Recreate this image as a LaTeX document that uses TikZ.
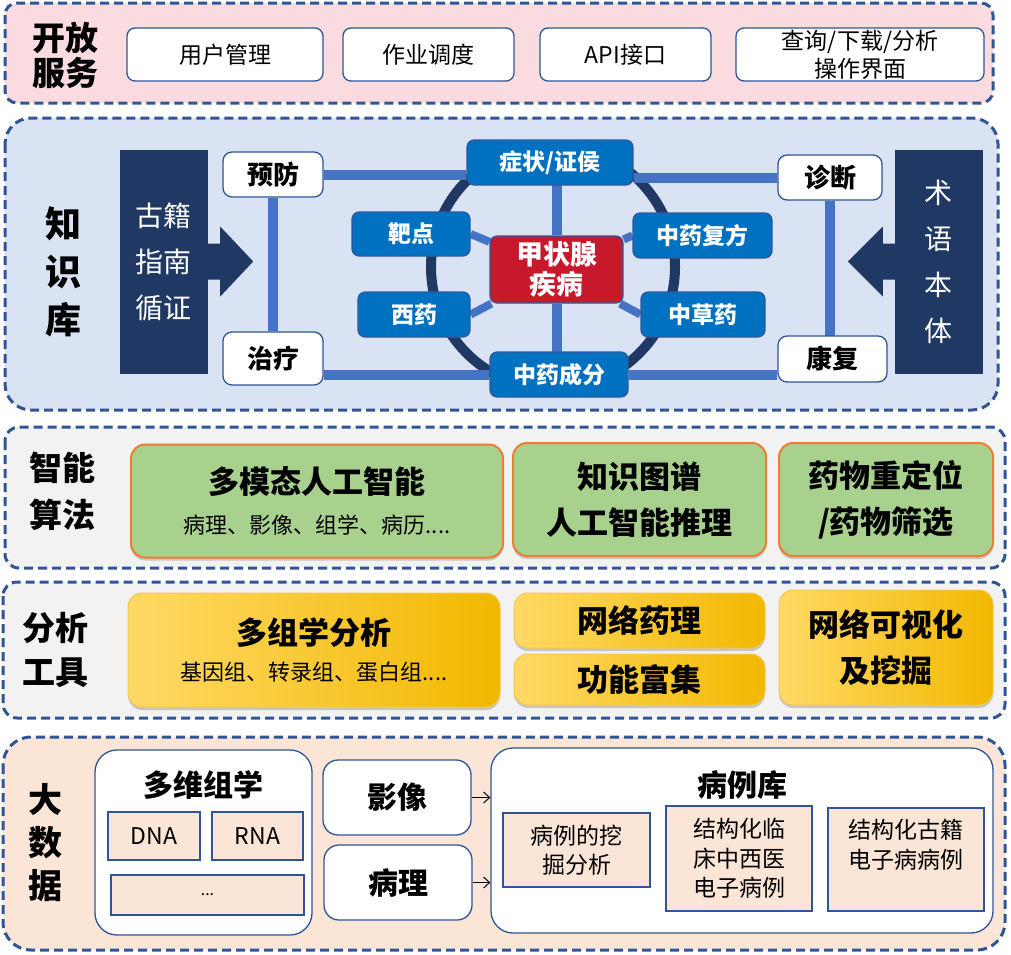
\documentclass[tikz,border=0pt]{standalone}
\usepackage{fontspec}
\setmainfont{Noto Sans CJK SC}
\usetikzlibrary{arrows.meta,shadows,calc}
\definecolor{panelblue}{HTML}{2F5597}
\definecolor{servicebg}{HTML}{F9DBE0}
\definecolor{kbbg}{HTML}{DAE3F3}
\definecolor{toolbg}{HTML}{F2F2F2}
\definecolor{databg}{HTML}{FBE5D6}
\definecolor{kbnavy}{HTML}{203864}
\definecolor{linkblue}{HTML}{4472C4}
\definecolor{entityblue}{HTML}{0070C0}
\definecolor{entityedge}{HTML}{2E5A9C}
\definecolor{diseasered}{HTML}{C8192C}
\definecolor{algogreen}{HTML}{A9D18E}
\definecolor{algoorange}{HTML}{ED7D31}
\definecolor{toollight}{HTML}{FFD966}
\definecolor{tooldark}{HTML}{F2B800}
\definecolor{tooledge}{HTML}{F5C84A}
\pgfdeclarelayer{panel}
\pgfdeclarelayer{links}
\pgfsetlayers{panel,links,main}
\tikzset{
  layer panel/.style={draw=panelblue, line width=3pt, dash pattern=on 9pt off 5pt},
  layer label/.style={font=\bfseries\fontsize{34}{44}\selectfont, align=center,
    inner sep=0pt},
  white box/.style={draw=panelblue, line width=1.3pt, fill=white,
    rounded corners=8pt, inner sep=0pt, align=center},
  service box/.style={white box, minimum height=53pt,
    font=\fontsize{23}{28}\selectfont},
  kb term/.style={white box, rounded corners=9pt,
    font=\bfseries\fontsize{26}{30}\selectfont},
  kb block/.style={fill=kbnavy, draw=kbnavy, text=white, inner sep=0pt,
    align=center, minimum width=87pt, minimum height=223pt,
    font=\fontsize{28}{46}\selectfont},
  kb entity/.style={fill=entityblue, draw=entityedge, line width=1.2pt,
    rounded corners=7pt, text=white, inner sep=0pt, minimum height=45pt,
    font=\bfseries\fontsize{23}{28}\selectfont},
  kb disease/.style={kb entity, fill=diseasered, align=center,
    font=\bfseries\fontsize{27}{30}\selectfont},
  kb link/.style={draw=linkblue, line width=10pt},
  kb spoke/.style={draw=linkblue, line width=8pt},
  kb ring/.style={circle, draw=kbnavy, line width=10pt, minimum size=244pt,
    inner sep=0pt},
  algo box/.style={fill=algogreen, draw=algoorange, line width=2pt,
    rounded corners=14pt, inner sep=0pt, align=center,
    drop shadow={shadow xshift=0pt, shadow yshift=-3pt, fill=black,
      opacity=.18}},
  tool box/.style={left color=toollight, right color=tooldark, draw=tooledge,
    line width=1pt, rounded corners=14pt, inner sep=0pt, align=center,
    drop shadow={shadow xshift=0pt, shadow yshift=-3pt, fill=black,
      opacity=.18}},
  big text/.style={font=\bfseries\fontsize{31}{46}\selectfont},
  data box/.style={white box, rounded corners=22pt},
  data title/.style={inner sep=0pt, font=\bfseries\fontsize{30}{34}\selectfont},
  data cell/.style={fill=databg, draw=panelblue, line width=1.3pt,
    inner sep=0pt, align=center, font=\fontsize{23}{29.5}\selectfont},
  feed arrow/.style={-{Straight Barb[length=6pt,width=11pt]}, line width=1pt},
}

\begin{document}
\begin{tikzpicture}[x=1pt, y=-1pt]
  \useasboundingbox (0,0) rectangle (1011,954);

  % layer panels
  \begin{pgfonlayer}{panel}
    \draw[layer panel, fill=servicebg, rounded corners=12pt] (5,3) rectangle (993,103);
    \draw[layer panel, fill=kbbg, rounded corners=26pt] (5,118) rectangle (998,410);
    \draw[layer panel, fill=toolbg, rounded corners=14pt] (5,427) rectangle (1005,568);
    \draw[layer panel, fill=toolbg, rounded corners=14pt] (3,582) rectangle (1005,718);
    \draw[layer panel, fill=databg, rounded corners=28pt] (3,737) rectangle (1005,950);
  \end{pgfonlayer}

  % open services
  \node[layer label, font=\bfseries\fontsize{33}{35}\selectfont] (lopen) at (65,55) {开放\\服务};
  \node[service box, minimum width=196pt] (user) at (225,54.5) {用户管理};
  \node[service box, minimum width=171pt] (sched) at (428.5,54.5) {作业调度};
  \node[service box, minimum width=171pt] (api) at (625.5,54.5) {API接口};
  \node[service box, minimum width=248pt] (query) at (860,54.5) {查询/下载/分析\\操作界面};

  % knowledge base
  \node[layer label, font=\bfseries\fontsize{36}{48}\selectfont] (lkb) at (63,272) {知\\识\\库};
  \node[kb block] (guji) at (163.5,261.5) {古籍\\指南\\循证};
  \node[kb block] (shuyu) at (938.5,261.5) {术\\语\\本\\体};
  \fill[kbnavy] (guji.east) ++(0,-18) -- ++(13,0) -- ++(0,-17) -- ++(33,35)
    -- ++(-33,35) -- ++(0,-17) -- ++(-13,0) -- cycle;
  \fill[kbnavy] (shuyu.west) ++(0,-18) -- ++(-12,0) -- ++(0,-17) -- ++(-35,35)
    -- ++(35,35) -- ++(0,-17) -- ++(12,0) -- cycle;
  \node[kb term, minimum width=100pt, minimum height=45pt] (yufang) at (273,174.5) {预防};
  \node[kb term, minimum width=100pt, minimum height=53pt] (zhiliao) at (273,358.5) {治疗};
  \node[kb term, minimum width=104pt, minimum height=45pt] (zhenduan) at (830,177.5) {诊断};
  \node[kb term, minimum width=109pt, minimum height=46pt] (kangfu) at (832.5,359) {康复};
  \node[kb entity, minimum width=166pt] (zhengzhuang) at (550,162.5) {症状/证侯};
  \node[kb entity, minimum width=118pt, minimum height=44pt] (badian) at (411,234) {靶点};
  \node[kb entity, minimum width=112pt] (xiyao) at (414,314.5) {西药};
  \node[kb entity, minimum width=139pt] (fufang) at (702.5,235.5) {中药复方};
  \node[kb entity, minimum width=124pt] (caoyao) at (703,314.5) {中草药};
  \node[kb entity, minimum width=138pt] (chengfen) at (559,374.5) {中药成分};
  \node[kb disease, minimum width=133pt, minimum height=67pt] (jzx) at (556.5,269.5) {甲状腺\\疾病};

  \begin{pgfonlayer}{links}
    \node[kb ring] (ring) at (553,267) {};
    \draw[kb link] (yufang) -- (zhiliao);
    \draw[kb link] (zhenduan) -- (zhenduan |- kangfu);
    \draw[kb link] (yufang) -- (yufang -| zhengzhuang.west);
    \draw[kb link] (zhengzhuang.east |- zhenduan) -- (zhenduan);
    \draw[kb link] (zhiliao.east |- chengfen) -- (chengfen);
    \draw[kb link] (chengfen) -- (chengfen -| kangfu.west);
    \draw[kb link] (jzx) -- (jzx |- zhengzhuang);
    \draw[kb link] (jzx) -- (jzx |- chengfen);
    \draw[kb spoke] (badian.east) -- (jzx);
    \draw[kb spoke] (xiyao.east) -- (jzx);
    \draw[kb spoke] (fufang.west) -- (jzx);
    \draw[kb spoke] (caoyao.west) -- (jzx);
  \end{pgfonlayer}

  % intelligent algorithms
  \node[layer label, font=\bfseries\fontsize{33}{47}\selectfont] (lalgo) at (62,491) {智能\\算法};
  \node[algo box, minimum width=372pt, minimum height=113pt] (multimodal) at (317,501)
    {\fontsize{31}{34}\selectfont\bfseries 多模态人工智能\\[17pt]
     \fontsize{22}{26}\selectfont 病理、影像、组学、病历....};
  \node[algo box, big text, minimum width=253pt, minimum height=113pt] (kgraph) at (639.5,499.5)
    {知识图谱\\人工智能推理};
  \node[algo box, big text, minimum width=214pt, minimum height=113pt] (repos) at (886,499.5)
    {药物重定位\\/药物筛选};

  % analysis tools
  \node[layer label, font=\bfseries\fontsize{33}{44}\selectfont] (ltool) at (55,650) {分析\\工具};
  \node[tool box, minimum width=372pt, minimum height=114pt] (omicsan) at (314,650)
    {\fontsize{31}{34}\selectfont\bfseries 多组学分析\\[14pt]
     \fontsize{22}{26}\selectfont 基因组、转录组、蛋白组....};
  \node[tool box, big text, minimum width=251pt, minimum height=55pt] (netpharm) at (639.5,620.5) {网络药理};
  \node[tool box, big text, minimum width=251pt, minimum height=51pt] (enrich) at (639.5,679.5) {功能富集};
  \node[tool box, big text, minimum width=214pt, minimum height=115pt] (netvis) at (886,647.5)
    {网络可视化\\及挖掘};

  % big data
  \node[layer label, font=\bfseries\fontsize{34}{43}\selectfont] (ldata) at (45,843) {大\\数\\据};
  \node[data box, minimum width=217pt, minimum height=185pt] (omics) at (203.5,842.5) {};
  \node[data title] (omicst) at (203.5,785) {多维组学};
  \node[data cell, minimum width=92pt, minimum height=48pt] (dna) at (154,836) {DNA};
  \node[data cell, minimum width=91pt, minimum height=48pt] (rna) at (257.5,836) {RNA};
  \node[data cell, minimum width=193pt, minimum height=40pt, font=\fontsize{16}{18}\selectfont] (more) at (207.5,895) {...};
  \node[data box, rounded corners=15pt, minimum width=148pt, minimum height=75pt,
    font=\bfseries\fontsize{30}{34}\selectfont] (image) at (397,797.5) {影像};
  \node[data box, rounded corners=15pt, minimum width=148pt, minimum height=75pt,
    font=\bfseries\fontsize{30}{34}\selectfont] (patho) at (398,882.5) {病理};
  \node[data box, minimum width=502pt, minimum height=185pt] (cases) at (742,840.5) {};
  \node[data title] (casest) at (742,785) {病例库};
  \node[data cell, minimum width=147pt, minimum height=74pt] (mining) at (576.5,850) {病例的挖\\掘分析};
  \node[data cell, minimum width=146pt, minimum height=105pt] (clinic) at (739,858.5)
    {结构化临\\床中西医\\电子病例};
  \node[data cell, minimum width=156pt, minimum height=103pt] (ancient) at (906,859.5)
    {\parbox[c][80pt][t]{150pt}{\centering 结构化古籍\\电子病病例}};
  \draw[feed arrow] (image.east) -- (image.east -| cases.west);
  \draw[feed arrow] (patho.east) -- (patho.east -| cases.west);
\end{tikzpicture}
\end{document}
